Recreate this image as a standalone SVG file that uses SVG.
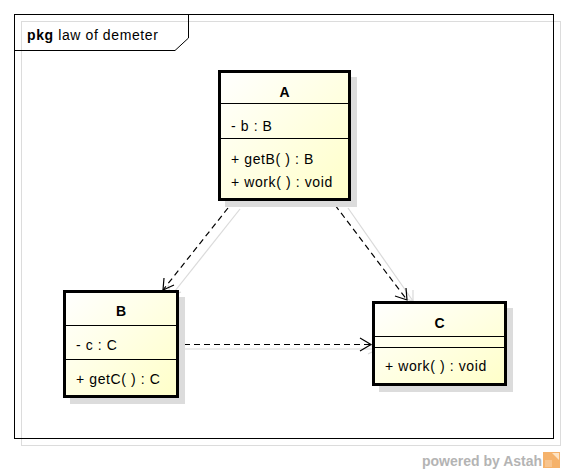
<svg xmlns="http://www.w3.org/2000/svg" width="567" height="473" viewBox="0 0 567 473">
<style>
.cls{stroke:#000;stroke-width:3;fill:url(#g)}
.shadow{fill:#dcdcdc}
.sep{stroke:#000;stroke-width:1}
.t{font-family:"Liberation Sans",Arial,sans-serif;font-size:14px;letter-spacing:0.6px;fill:#000}
.name{font-weight:bold;text-anchor:middle;letter-spacing:0}
.dep{stroke:#000;stroke-width:1.2;stroke-dasharray:6,4;fill:none}
.sh{stroke:#dadada;stroke-width:1.2;fill:none}
.head{stroke:#000;stroke-width:1.2;fill:none}
.headsh{stroke:#dadada;stroke-width:1.2;fill:none}
</style>
<defs>
<linearGradient id="g" x1="0" y1="0" x2="1" y2="1">
<stop offset="0" stop-color="#ffffff"/>
<stop offset="1" stop-color="#ffffc8"/>
</linearGradient>
</defs>
<rect width="567" height="473" fill="#fff"/>
<g id="frame">
<rect x="21.5" y="21.5" width="539" height="424" fill="none" stroke="#dcdcdc" stroke-width="1"/>
<rect x="14.5" y="14.5" width="539" height="424" fill="none" stroke="#000" stroke-width="1"/>
<path d="M14.5 50.5 H175 L188.5 38 V14.5" fill="none" stroke="#000" stroke-width="1"/>
<text x="27" y="40" class="t"><tspan font-weight="bold">pkg</tspan> law of demeter</text>
</g>
<g id="connectors">
<line x1="240" y1="209" x2="171" y2="296" class="sh"/>
<path d="M168 285 L171 296 L181 292" class="headsh"/>
<line x1="348" y1="208" x2="413" y2="301" class="sh"/>
<path d="M402 298 L413 301 L413 290" class="headsh"/>
<line x1="184" y1="349" x2="378" y2="349" class="sh"/>
<path d="M368 344 L378 349 L368 354" class="headsh"/>
<line x1="228" y1="208" x2="163" y2="290" class="dep"/>
<path d="M164 278 L163 290 L174 285" class="head"/>
<line x1="335" y1="205" x2="407" y2="300" class="dep"/>
<path d="M395 296 L407 300 L406 288" class="head"/>
<line x1="184" y1="344.5" x2="371" y2="344.5" class="dep"/>
<path d="M360 338 L371 344.5 L360 351" class="head"/>
</g>
<g id="A">
<rect x="225" y="77" width="132" height="130" class="shadow"/>
<rect x="219.5" y="71.5" width="130" height="128" class="cls"/>
<line x1="220" y1="103.5" x2="349" y2="103.5" class="sep"/>
<line x1="220" y1="138.5" x2="349" y2="138.5" class="sep"/>
<text x="284.5" y="97" class="t name">A</text>
<text x="231" y="131" class="t">- b : B</text>
<text x="231" y="164" class="t">+ getB( ) : B</text>
<text x="231" y="187" class="t">+ work( ) : void</text>
</g>
<g id="B">
<rect x="70" y="297" width="115" height="107" class="shadow"/>
<rect x="64.5" y="291.5" width="113" height="105" class="cls"/>
<line x1="65" y1="325.5" x2="177" y2="325.5" class="sep"/>
<line x1="65" y1="359.5" x2="177" y2="359.5" class="sep"/>
<text x="121" y="316" class="t name">B</text>
<text x="76" y="350" class="t">- c : C</text>
<text x="76" y="384" class="t">+ getC( ) : C</text>
</g>
<g id="C">
<rect x="379" y="308" width="134" height="84" class="shadow"/>
<rect x="373.5" y="302.5" width="132" height="82" class="cls"/>
<line x1="374" y1="336.5" x2="505" y2="336.5" class="sep"/>
<line x1="374" y1="347.5" x2="505" y2="347.5" class="sep"/>
<text x="439.5" y="328" class="t name">C</text>
<text x="385" y="371" class="t">+ work( ) : void</text>
</g>
<g id="watermark">
<text x="422" y="466" font-family="'Liberation Sans',Arial,sans-serif" font-size="14" font-weight="bold" fill="#b4b4b4">powered by Astah</text>
<rect x="543" y="452" width="17" height="16" fill="#f5b26b"/>
<path d="M552 453 L559 453 L559 460 Z" fill="#fde3c4"/>
<path d="M545 460 L552 460 L552 467 L545 467 Z" fill="#f7c48e"/>
</g>
</svg>
